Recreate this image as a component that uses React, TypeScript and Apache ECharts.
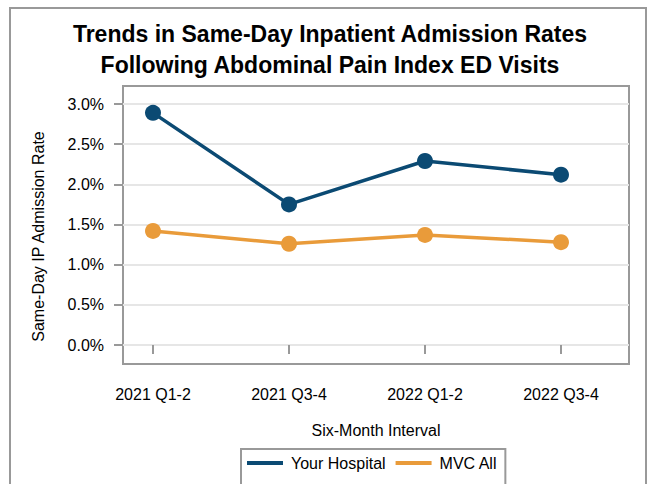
import React, { useEffect, useRef } from "react";
import * as echarts from "echarts";

const categories = ["2021 Q1-2", "2021 Q3-4", "2022 Q1-2", "2022 Q3-4"];
const yourHospital = [2.89, 1.75, 2.29, 2.12];
const mvcAll = [1.42, 1.26, 1.37, 1.28];
const yTicks = { min: 0, max: 3, interval: 0.5 };

const FONT = "'Liberation Sans', Arial, sans-serif";

export default function App() {
  const ref = useRef<HTMLDivElement>(null);
  useEffect(() => {
    if (!ref.current) return;
    const chart = echarts.init(ref.current, null, { renderer: "svg" });
    chart.setOption({
      animation: false,
      backgroundColor: "#ffffff",
      title: {
        text: "Trends in Same-Day Inpatient Admission Rates\nFollowing Abdominal Pain Index ED Visits",
        left: 325,
        top: 13,
        textAlign: "center",
        textStyle: {
          fontFamily: FONT,
          fontSize: 23,
          fontWeight: "bold",
          color: "#000",
          lineHeight: 31,
        },
      },
      graphic: [
        {
          type: "rect",
          z: -1,
          shape: { x: 10, y: 8, width: 636, height: 500 },
          style: { fill: "none", stroke: "#999", lineWidth: 2 },
        },
        {
          type: "rect",
          z: 0,
          shape: { x: 123, y: 86, width: 506, height: 278 },
          style: { fill: "none", stroke: "#999", lineWidth: 2 },
        },
      ],
      legend: {
        data: ["Your Hospital", "MVC All"],
        left: 241,
        top: 449,
        orient: "horizontal",
        icon: "rect",
        itemWidth: 36,
        itemHeight: 4,
        itemGap: 10,
        borderColor: "#999",
        borderWidth: 2,
        borderRadius: 0,
        padding: [6, 8, 40, 6],
        textStyle: { fontFamily: FONT, fontSize: 16, color: "#000", padding: [0, 0, 0, 3] },
      },
      grid: [
        { left: 123, right: 21, top: 104, bottom: 139, containLabel: false },
        { left: 153, right: 89, top: 104, bottom: 139, containLabel: false },
      ],
      xAxis: [
        {
          gridIndex: 0,
          type: "value",
          min: 0,
          max: 1,
          axisLine: { show: false },
          axisTick: { show: false },
          axisLabel: { show: false },
          splitLine: { show: false },
          name: "Six-Month Interval",
          nameLocation: "middle",
          nameGap: 77,
          nameTextStyle: { fontFamily: FONT, fontSize: 16, color: "#000" },
        },
        {
          gridIndex: 1,
          type: "category",
          data: categories,
          boundaryGap: false,
          offset: 19,
          axisLine: { show: false },
          axisTick: { show: true, length: 9, lineStyle: { color: "#999", width: 2 } },
          axisLabel: { margin: 22, fontFamily: FONT, fontSize: 16, color: "#000" },
          splitLine: { show: false },
        },
      ],
      yAxis: [
        {
          gridIndex: 0,
          type: "value",
          min: yTicks.min,
          max: yTicks.max,
          interval: yTicks.interval,
          axisLine: { show: false },
          axisTick: { show: true, length: 9, lineStyle: { color: "#999", width: 2 } },
          axisLabel: {
            margin: 19,
            fontFamily: FONT,
            fontSize: 16,
            color: "#000",
            formatter: (v: number) => v.toFixed(1) + "%",
          },
          splitLine: { show: true, lineStyle: { color: "#e6e6e6", width: 2 } },
          name: "Same-Day IP Admission Rate",
          nameLocation: "middle",
          nameGap: 77,
          nameTextStyle: { fontFamily: FONT, fontSize: 16, color: "#000", padding: [0, 24, 0, 0] },
        },
        {
          gridIndex: 1,
          type: "value",
          min: yTicks.min,
          max: yTicks.max,
          interval: yTicks.interval,
          show: false,
        },
      ],
      series: [
        {
          name: "Your Hospital",
          type: "line",
          xAxisIndex: 1,
          yAxisIndex: 1,
          data: yourHospital,
          color: "#0b4a73",
          symbol: "circle",
          symbolSize: 16,
          lineStyle: { width: 3.5, color: "#0b4a73" },
          itemStyle: { color: "#0b4a73" },
          z: 3,
        },
        {
          name: "MVC All",
          type: "line",
          xAxisIndex: 1,
          yAxisIndex: 1,
          data: mvcAll,
          color: "#e99b3a",
          symbol: "circle",
          symbolSize: 16,
          lineStyle: { width: 3.5, color: "#e99b3a" },
          itemStyle: { color: "#e99b3a" },
          z: 2,
        },
      ],
    });
    return () => chart.dispose();
  }, []);
  return (
    <div
      ref={ref}
      style={{ position: "fixed", left: 0, top: 0, width: 650, height: 484 }}
    />
  );
}
